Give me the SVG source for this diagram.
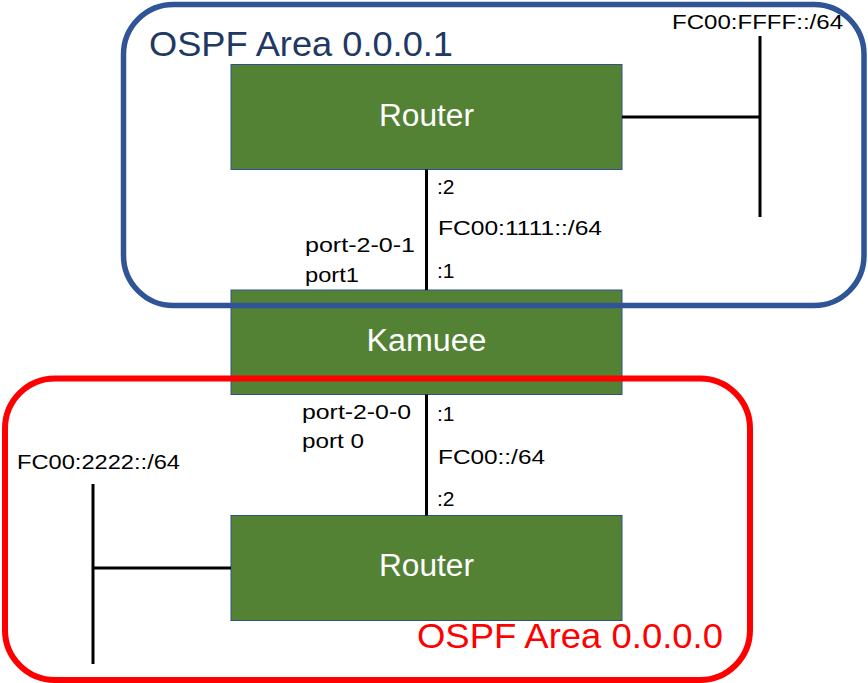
<svg xmlns="http://www.w3.org/2000/svg" width="868" height="683" viewBox="0 0 868 683">
<style>
.node{fill:#548235;stroke:#2F528F;stroke-width:1}
.ntext{font-family:"Liberation Sans",Arial,sans-serif;font-size:31px;fill:#ffffff;text-anchor:middle}
.lbl{font-family:"Liberation Sans",Arial,sans-serif;font-size:21px;fill:#000000}
.wire{stroke:#000000;stroke-width:3;fill:none}
.area{fill:none}
</style>
<rect width="868" height="683" fill="#ffffff"/>
<g id="router-top">
<rect class="node" x="231" y="64.5" width="391" height="105"/>
<text class="ntext" x="426.5" y="126" textLength="95" lengthAdjust="spacingAndGlyphs">Router</text>
</g>
<g id="kamuee">
<rect class="node" x="231" y="290" width="391" height="104.5"/>
<text class="ntext" x="426.5" y="351" textLength="120" lengthAdjust="spacingAndGlyphs">Kamuee</text>
</g>
<g id="router-bottom">
<rect class="node" x="231" y="515.5" width="391" height="105"/>
<text class="ntext" x="426.5" y="576" textLength="95" lengthAdjust="spacingAndGlyphs">Router</text>
</g>
<g id="connectors">
<line class="wire" x1="426.5" y1="169.5" x2="426.5" y2="290"/>
<line class="wire" x1="426.5" y1="394.5" x2="426.5" y2="515.5"/>
<line class="wire" x1="622" y1="117" x2="760" y2="117"/>
<line class="wire" x1="760" y1="36" x2="760" y2="217"/>
<line class="wire" x1="231" y1="568" x2="93" y2="568"/>
<line class="wire" x1="93" y1="484" x2="93" y2="664"/>
</g>
<g id="area-1">
<rect class="area" x="123.5" y="4.5" width="740.5" height="301" rx="50" ry="50" stroke="#2F5597" stroke-width="5.5"/>
<text x="149" y="56" font-family="Liberation Sans,Arial,sans-serif" font-size="35" fill="#203864" textLength="304" lengthAdjust="spacingAndGlyphs">OSPF Area 0.0.0.1</text>
</g>
<g id="area-0">
<rect class="area" x="5" y="378.5" width="745" height="301.5" rx="50" ry="50" stroke="#FF0000" stroke-width="6"/>
<text x="417" y="648" font-family="Liberation Sans,Arial,sans-serif" font-size="35" fill="#FF0000" textLength="306" lengthAdjust="spacingAndGlyphs">OSPF Area 0.0.0.0</text>
</g>
<g id="labels">
<text class="lbl" x="437" y="194">:2</text>
<text class="lbl" x="438" y="235" textLength="164" lengthAdjust="spacingAndGlyphs">FC00:1111::/64</text>
<text class="lbl" x="437" y="278">:1</text>
<text class="lbl" x="305" y="252" textLength="110" lengthAdjust="spacingAndGlyphs">port-2-0-1</text>
<text class="lbl" x="305" y="282" textLength="54" lengthAdjust="spacingAndGlyphs">port1</text>
<text class="lbl" x="302" y="419" textLength="109" lengthAdjust="spacingAndGlyphs">port-2-0-0</text>
<text class="lbl" x="302" y="448" textLength="62" lengthAdjust="spacingAndGlyphs">port 0</text>
<text class="lbl" x="437" y="421">:1</text>
<text class="lbl" x="438" y="464" textLength="107" lengthAdjust="spacingAndGlyphs">FC00::/64</text>
<text class="lbl" x="437" y="506">:2</text>
<text class="lbl" x="17" y="469" textLength="163" lengthAdjust="spacingAndGlyphs">FC00:2222::/64</text>
<text class="lbl" x="672" y="29" textLength="171" lengthAdjust="spacingAndGlyphs">FC00:FFFF::/64</text>
</g>
</svg>
